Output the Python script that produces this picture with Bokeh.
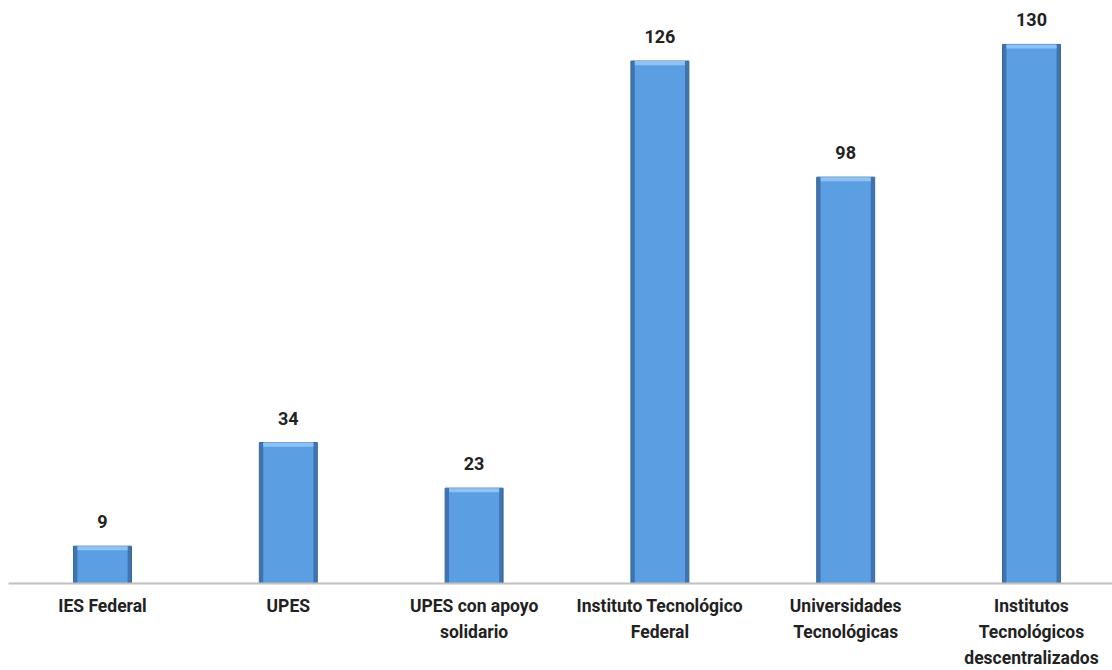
from bokeh.plotting import figure
from bokeh.models import ColumnDataSource, Range1d, FixedTicker, LabelSet
from bokeh.core.properties import value
from bokeh.embed import file_html
from bokeh.resources import INLINE

categories = ["IES Federal", "UPES", "UPES con apoyo\nsolidario",
              "Instituto Tecnológico\nFederal", "Universidades\nTecnológicas",
              "Institutos\nTecnológicos\ndescentralizados"]
values = [9, 34, 23, 126, 98, 130]

xs = list(range(len(categories)))
src = ColumnDataSource(dict(x=xs, top=values, label=[str(v) for v in values],
                            hl_bottom=[v - 1.0 for v in values]))

p = figure(width=1112, height=670, output_backend="svg", toolbar_location=None,
           x_range=Range1d(-0.506, 5.436), y_range=Range1d(0, 140.6),
           min_border_left=8, min_border_right=0, min_border_top=0, min_border_bottom=87)
p.outline_line_color = None
p.background_fill_color = "white"
p.border_fill_color = "white"
p.grid.visible = False
p.yaxis.visible = False

# bars with bevel look
p.vbar(x="x", top="top", bottom=0, width=0.312, source=src,
       fill_color="#3f74b0", line_color="#3a6798", line_width=1)
p.vbar(x="x", top="top", bottom=0, width=0.27, source=src,
       fill_color="#5b9fe2", line_color=None)
p.vbar(x="x", top="top", bottom="hl_bottom", width=0.27, source=src,
       fill_color="#8ec2f2", line_color=None)

labels = LabelSet(x="x", y="top", text="label", source=src, text_align="center",
                  text_baseline="bottom", y_offset=18, text_font=value("Roboto"),
                  text_font_style="bold", text_font_size="18px", text_color="#222222")
p.add_layout(labels)

ax = p.xaxis[0]
ax.ticker = FixedTicker(ticks=xs)
ax.major_label_overrides = {i: c for i, c in enumerate(categories)}
ax.major_tick_line_color = None
ax.minor_tick_line_color = None
ax.axis_line_color = "#c0c0c0"
ax.axis_line_width = 2
ax.major_label_text_font = "Roboto"
ax.major_label_text_font_style = "bold"
ax.major_label_text_font_size = "17.5px"
ax.major_label_text_color = "#222222"
ax.major_label_standoff = 6
ax.major_label_text_line_height = 1.3

open("out.html", "w").write(file_html(p, INLINE))
